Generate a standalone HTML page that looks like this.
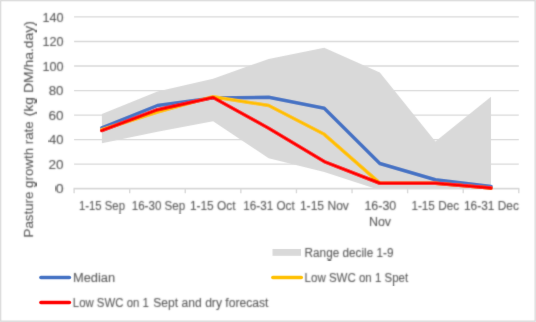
<!DOCTYPE html>
<html><head><meta charset="utf-8"><style>
html,body{margin:0;padding:0;background:#fff;}
body{width:536px;height:322px;overflow:hidden;}
svg{display:block;will-change:transform;}
text{font-family:"Liberation Sans", sans-serif;fill:#595959;stroke:#595959;stroke-width:0.1px;}
</style></head><body>
<svg width="536" height="322" viewBox="0 0 536 322">
<defs><filter id="soft" x="-1%" y="-1%" width="102%" height="102%"><feConvolveMatrix order="3" kernelMatrix="0.00524 0.06192 0.00524 0.06192 0.73137 0.06192 0.00524 0.06192 0.00524" preserveAlpha="false"/></filter><filter id="tsoft" x="-5%" y="-5%" width="110%" height="110%"><feConvolveMatrix order="3" kernelMatrix="0.02768 0.11101 0.02768 0.11101 0.44521 0.11101 0.02768 0.11101 0.02768" preserveAlpha="false"/></filter></defs>
<rect x="0" y="0" width="536" height="322" fill="#fff"/>
<g filter="url(#soft)">
<rect x="0.6" y="0.6" width="534.6" height="320.6" fill="none" stroke="#d9d9d9" stroke-width="1.4"/>
<line x1="74.10" y1="164.12" x2="518.80" y2="164.12" stroke="#d9d9d9" stroke-width="1.3"/>
<line x1="74.10" y1="139.59" x2="518.80" y2="139.59" stroke="#d9d9d9" stroke-width="1.3"/>
<line x1="74.10" y1="115.06" x2="518.80" y2="115.06" stroke="#d9d9d9" stroke-width="1.3"/>
<line x1="74.10" y1="90.54" x2="518.80" y2="90.54" stroke="#d9d9d9" stroke-width="1.3"/>
<line x1="74.10" y1="66.01" x2="518.80" y2="66.01" stroke="#d9d9d9" stroke-width="1.3"/>
<line x1="74.10" y1="41.48" x2="518.80" y2="41.48" stroke="#d9d9d9" stroke-width="1.3"/>
<line x1="74.10" y1="16.95" x2="518.80" y2="16.95" stroke="#d9d9d9" stroke-width="1.3"/>
<clipPath id="pc"><rect x="0" y="0" width="536" height="188.65"/></clipPath><polygon points="101.89,114.08 157.48,91.52 213.07,78.64 268.66,58.89 324.24,47.86 379.83,72.38 435.42,141.43 491.01,96.67 491.01,190.12 435.42,190.12 379.83,190.12 324.24,171.97 268.66,158.23 213.07,121.20 157.48,131.87 101.89,143.27" fill="#d9d9d9" clip-path="url(#pc)"/>
<line x1="73.50" y1="188.65" x2="519.40" y2="188.65" stroke="#d9d9d9" stroke-width="1.7"/>
<line x1="74.10" y1="188.65" x2="74.10" y2="193.25" stroke="#d9d9d9" stroke-width="1.4"/>
<line x1="129.69" y1="188.65" x2="129.69" y2="193.25" stroke="#d9d9d9" stroke-width="1.4"/>
<line x1="185.27" y1="188.65" x2="185.27" y2="193.25" stroke="#d9d9d9" stroke-width="1.4"/>
<line x1="240.86" y1="188.65" x2="240.86" y2="193.25" stroke="#d9d9d9" stroke-width="1.4"/>
<line x1="296.45" y1="188.65" x2="296.45" y2="193.25" stroke="#d9d9d9" stroke-width="1.4"/>
<line x1="352.04" y1="188.65" x2="352.04" y2="193.25" stroke="#d9d9d9" stroke-width="1.4"/>
<line x1="407.62" y1="188.65" x2="407.62" y2="193.25" stroke="#d9d9d9" stroke-width="1.4"/>
<line x1="463.21" y1="188.65" x2="463.21" y2="193.25" stroke="#d9d9d9" stroke-width="1.4"/>
<line x1="518.80" y1="188.65" x2="518.80" y2="193.25" stroke="#d9d9d9" stroke-width="1.4"/>
<polyline points="101.89,127.82 157.48,105.50 213.07,97.89 268.66,97.28 324.24,108.32 379.83,163.51 435.42,179.70 491.01,186.44" fill="none" stroke="#4472c4" stroke-width="3.5" stroke-linejoin="round" stroke-linecap="round"/>
<polyline points="101.89,129.78 157.48,112.00 213.07,96.67 268.66,105.50 324.24,134.32 379.83,183.13 435.42,183.25 491.01,188.04" fill="none" stroke="#ffc000" stroke-width="3.5" stroke-linejoin="round" stroke-linecap="round"/>
<polyline points="101.89,130.52 157.48,109.67 213.07,97.53 268.66,128.19 324.24,161.55 379.83,183.25 435.42,183.25 491.01,188.04" fill="none" stroke="#ff0000" stroke-width="3.5" stroke-linejoin="round" stroke-linecap="round"/>
<g filter="url(#tsoft)"><text x="42.40" y="21.65" font-size="12.1" textLength="21.13" lengthAdjust="spacingAndGlyphs">140</text></g>
<g filter="url(#tsoft)"><text x="42.40" y="46.18" font-size="12.1" textLength="21.13" lengthAdjust="spacingAndGlyphs">120</text></g>
<g filter="url(#tsoft)"><text x="42.40" y="70.71" font-size="12.1" textLength="21.13" lengthAdjust="spacingAndGlyphs">100</text></g>
<g filter="url(#tsoft)"><text x="48.70" y="95.24" font-size="12.1" textLength="14.78" lengthAdjust="spacingAndGlyphs">80</text></g>
<g filter="url(#tsoft)"><text x="48.45" y="119.76" font-size="12.1" textLength="15.07" lengthAdjust="spacingAndGlyphs">60</text></g>
<g filter="url(#tsoft)"><text x="48.95" y="144.29" font-size="12.1" textLength="14.49" lengthAdjust="spacingAndGlyphs">40</text></g>
<g filter="url(#tsoft)"><text x="48.45" y="168.82" font-size="12.1" textLength="15.05" lengthAdjust="spacingAndGlyphs">20</text></g>
<g filter="url(#tsoft)"><text x="55.70" y="193.35" font-size="12.1" textLength="7.87" lengthAdjust="spacingAndGlyphs">0</text></g>
<g filter="url(#tsoft)"><text x="78.95" y="209.90" font-size="12.0" textLength="45.99" lengthAdjust="spacingAndGlyphs">1-15 Sep</text></g>
<g filter="url(#tsoft)"><text x="131.70" y="209.90" font-size="12.0" textLength="53.54" lengthAdjust="spacingAndGlyphs">16-30 Sep</text></g>
<g filter="url(#tsoft)"><text x="189.90" y="209.90" font-size="12.0" textLength="45.63" lengthAdjust="spacingAndGlyphs">1-15 Oct</text></g>
<g filter="url(#tsoft)"><text x="243.30" y="209.90" font-size="12.0" textLength="51.42" lengthAdjust="spacingAndGlyphs">16-31 Oct</text></g>
<g filter="url(#tsoft)"><text x="299.90" y="209.90" font-size="12.0" textLength="49.02" lengthAdjust="spacingAndGlyphs">1-15 Nov</text></g>
<g filter="url(#tsoft)"><text x="364.40" y="209.90" font-size="12.0" textLength="31.88" lengthAdjust="spacingAndGlyphs">16-30</text></g>
<g filter="url(#tsoft)"><text x="368.90" y="226.20" font-size="12.0" textLength="22.16" lengthAdjust="spacingAndGlyphs">Nov</text></g>
<g filter="url(#tsoft)"><text x="411.40" y="209.90" font-size="12.0" textLength="47.68" lengthAdjust="spacingAndGlyphs">1-15 Dec</text></g>
<g filter="url(#tsoft)"><text x="464.00" y="209.90" font-size="12.0" textLength="54.88" lengthAdjust="spacingAndGlyphs">16-31 Dec</text></g>
<g filter="url(#tsoft)"><text x="304.60" y="256.60" font-size="12.5" textLength="88.83" lengthAdjust="spacingAndGlyphs">Range decile 1-9</text></g>
<g filter="url(#tsoft)"><text x="73.00" y="281.90" font-size="12.5" textLength="42.13" lengthAdjust="spacingAndGlyphs">Median</text></g>
<g filter="url(#tsoft)"><text x="304.60" y="282.00" font-size="12.5" textLength="103.61" lengthAdjust="spacingAndGlyphs">Low SWC on 1 Spet</text></g>
<g filter="url(#tsoft)"><text x="72.80" y="307.40" font-size="12.5" textLength="76.03" lengthAdjust="spacingAndGlyphs">Low SWC on 1</text></g>
<g filter="url(#tsoft)"><text x="153.30" y="307.40" font-size="12.5" textLength="115.10" lengthAdjust="spacingAndGlyphs">Sept and dry forecast</text></g>
<g filter="url(#tsoft)"><g transform="translate(33.2,238) rotate(-90)"><text x="0.50" y="0.00" font-size="12.8" textLength="116.22" lengthAdjust="spacingAndGlyphs">Pasture growth rate</text><text x="121.65" y="0.00" font-size="12.8" textLength="95.33" lengthAdjust="spacingAndGlyphs">(kg DM/ha.day)</text></g></g>
<rect x="272.5" y="249" width="28.5" height="6.8" fill="#d9d9d9"/>
<line x1="40.9" y1="277.6" x2="69.4" y2="277.6" stroke="#4472c4" stroke-width="3.5" stroke-linecap="round"/>
<line x1="272.8" y1="277.6" x2="301.3" y2="277.6" stroke="#ffc000" stroke-width="3.5" stroke-linecap="round"/>
<line x1="40.9" y1="302.5" x2="69.4" y2="302.5" stroke="#ff0000" stroke-width="3.5" stroke-linecap="round"/>
</g>
</svg>
</body></html>
